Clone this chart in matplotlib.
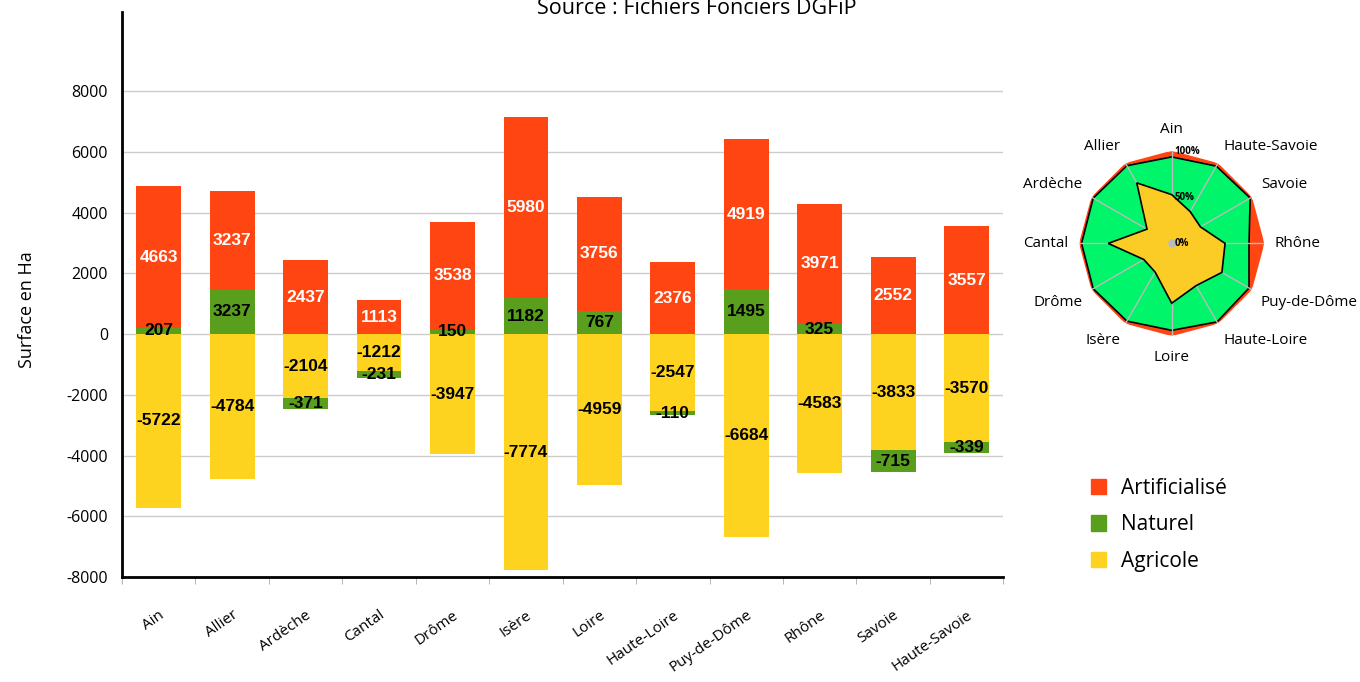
import numpy as np
import matplotlib.pyplot as plt
from matplotlib.patches import Patch

plt.rcParams['font.family'] = ['Open Sans', 'DejaVu Sans']
plt.rcParams['axes.unicode_minus'] = False

departements = ['Ain', 'Allier', 'Ardèche', 'Cantal', 'Drôme', 'Isère', 'Loire',
                'Haute-Loire', 'Puy-de-Dôme', 'Rhône', 'Savoie', 'Haute-Savoie']
artificialise = [4663, 3237, 2437, 1113, 3538, 5980, 3756, 2376, 4919, 3971, 2552, 3557]
# hauteur dessinée de Naturel (Allier est étiqueté 3237 sur l'original)
naturel = [207, 1460, -371, -231, 150, 1182, 767, -110, 1495, 325, -715, -339]
naturel_etiq = ['207', '3237', '-371', '-231', '150', '1182', '767', '-110',
                '1495', '325', '-715', '-339']
agricole = [-5722, -4784, -2104, -1212, -3947, -7774, -4959, -2547, -6684, -4583, -3833, -3570]

# radar en % cumulés (même ordre, sens anti-horaire depuis le haut)
radar_agricole = [53, 76, 31, 69, 35, 36, 65, 53, 63, 58, 36, 40]
radar_naturel = [94, 97.5, 98.5, 98, 98.5, 97.5, 94.5, 98.5, 97, 84, 98.5, 97]
radar_total = [100] * 12

rouge = '#FF4612'
vert = '#5A9E1E'
jaune = '#FDD31F'

fig = plt.figure(figsize=(13.6, 6.82), dpi=100)
ax = fig.add_axes([0.0897, 0.154, 0.648, 0.828])

x = np.arange(len(departements))
nat = np.array(naturel)
agr = np.array(agricole)
art = np.array(artificialise)
w = 0.61

bas_nat = np.where(nat > 0, 0, agr)
bas_art = np.where(nat > 0, nat, 0)

ax.bar(x, agr, w, color=jaune, zorder=2)
ax.bar(x, nat, w, bottom=bas_nat, color=vert, zorder=2)
ax.bar(x, art, w, bottom=bas_art, color=rouge, zorder=2)

lab = dict(family=['Liberation Sans', 'DejaVu Sans'], fontweight='bold',
           fontsize=12.5, ha='center', va='center', zorder=3)
for i in range(len(x)):
    ax.text(x[i], bas_art[i] + art[i] / 2, str(art[i]), color='white', **lab)
    ax.text(x[i], bas_nat[i] + nat[i] / 2, naturel_etiq[i], color='black', **lab)
    ax.text(x[i], agr[i] / 2, str(agr[i]), color='black', **lab)

ax.set_xlim(-0.5, 11.5)
ax.set_ylim(-8000, 10600)
ax.set_yticks(np.arange(-8000, 8001, 2000))
ax.tick_params(axis='y', length=0, labelsize=11.5, pad=10)
ax.set_xticks(x)
ax.set_xticklabels(departements, rotation=35, ha='right', rotation_mode='anchor', fontsize=11)
ax.set_xticks(np.arange(-0.5, 12, 1), minor=True)
ax.tick_params(axis='x', which='major', length=0, pad=22)
ax.tick_params(axis='x', which='minor', length=5, color='#aaaaaa')
for g in range(-6000, 8001, 2000):
    ax.axhline(g, color='#cccccc', lw=1, zorder=1)
for s in ['top', 'right']:
    ax.spines[s].set_visible(False)
ax.spines['left'].set_linewidth(2)
ax.spines['bottom'].set_linewidth(2)
ax.set_ylabel('Surface en Ha', fontsize=13)
ax.yaxis.set_label_coords(-0.098, 0.473)

fig.text(697 / 1360, 1 - 14 / 682, 'Source : Fichiers Fonciers DGFiP', ha='center',
         va='baseline', fontsize=15.5)

# radar
rad = fig.add_axes([0.7939, 0.5082, 0.1353, 0.2698], projection='polar')
rad.set_theta_zero_location('N')
rad.set_theta_direction(1)
theta = np.arange(len(departements)) * 2 * np.pi / len(departements)
tf = np.append(theta, theta[0])
rad.fill(tf, radar_total + radar_total[:1], color=rouge, edgecolor=rouge, lw=1, zorder=1)
rad.fill(tf, radar_naturel + radar_naturel[:1], facecolor='#00F56A', edgecolor='black', lw=1.2, zorder=2)
rad.fill(tf, radar_agricole + radar_agricole[:1], facecolor='#FACC25', edgecolor='black', lw=1.2, zorder=3)
rad.set_ylim(0, 100)
rad.set_yticks([])
rad.set_xticks(theta)
rad.set_xticklabels([])
rad.spines['polar'].set_visible(False)
rad.set_axisbelow(False)
rad.xaxis.grid(True, color='#bbbbbb', lw=1)
rad.plot([0], [0], 'o', color='#bbbbbb', ms=5, zorder=5)
for t, nom in zip(theta, departements):
    s = -np.sin(t)  # sens anti-horaire : gauche pour sin>0
    c = np.cos(t)
    ha = 'left' if s > 0.1 else ('right' if s < -0.1 else 'center')
    va = 'bottom' if c > 0.1 else ('top' if c < -0.1 else 'center')
    r = 112 if abs(s) > 0.1 else 116
    rad.text(t, r, nom, ha=ha, va=va, fontsize=11, clip_on=False)
for r, t in [(100, '100%'), (50, '50%'), (0, '0%')]:
    rad.annotate(t, (0, r), xytext=(2, 0), textcoords='offset points', fontsize=7,
                 fontweight='bold', ha='left', va='center', zorder=6)

handles = [Patch(color=rouge), Patch(color=vert), Patch(color=jaune)]
fig.legend(handles, ['Artificialisé', 'Naturel', 'Agricole'], loc='upper left',
           bbox_to_anchor=(1072 / 1360, 1 - 459 / 682), frameon=False, fontsize=15,
           handlelength=0.75, handleheight=0.75, labelspacing=0.75, handletextpad=0.7)

fig.savefig('out.png', dpi=100)
